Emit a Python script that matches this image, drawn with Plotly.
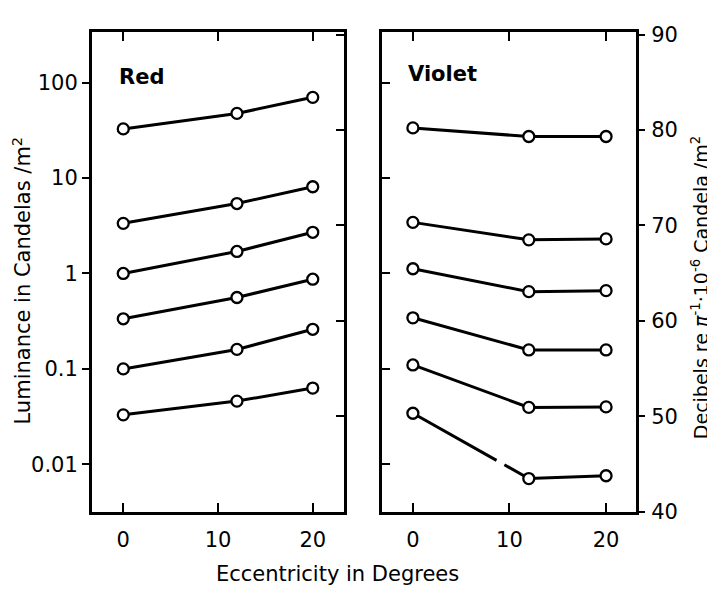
import plotly.graph_objects as go
import numpy as np

# ---------------- data ----------------
ecc = [0, 12, 20]

red_series = [
    [32.7, 47.5, 70.0],
    [3.35, 5.4, 8.1],
    [1.0, 1.7, 2.7],
    [0.335, 0.56, 0.87],
    [0.10, 0.16, 0.26],
    [0.033, 0.046, 0.063],
]

violet_series = [
    [33.5, 27.2, 27.2],
    [3.43, 2.25, 2.3],
    [1.12, 0.645, 0.66],
    [0.343, 0.158, 0.158],
    [0.11, 0.0395, 0.04],
    [0.0343, 0.0071, 0.0076],
]

lum_ticks = [0.01, 0.1, 1, 10, 100]
lum_ticktext = ["0.01", "0.1", "1", "10", "100"]
db_ticks = [40, 50, 60, 70, 80, 90]
x_ticks = [0, 10, 20]

# ---------------- geometry ----------------
# the page keeps the browser's default 8px body margin, so every target
# position (in window pixels) is converted to figure pixels by subtracting it
OFF = 8
W, H = 715, 601


def px(xp):
    return (xp - OFF) / W


def py(yp):
    return 1 - (yp - OFF) / H


log_range = [-2.5, 2.525]
DB_OFFSET = 6 + np.log10(np.pi)  # dB re pi^-1 * 1e-6 cd/m^2


def to_db(v):
    return 10 * (np.log10(v) + DB_OFFSET)


db_range = [10 * (v + DB_OFFSET) for v in log_range]

FONT = "DejaVu Sans"
LW = 3

fig = go.Figure()


def add_series(series, xa, ya, broken_last=False):
    for i, vals in enumerate(series):
        dash = "solid"
        if broken_last and i == len(series) - 1:
            dash = "96px,9px,1000px"
        fig.add_trace(go.Scatter(
            x=ecc, y=vals, xaxis=xa, yaxis=ya, mode="lines+markers",
            line=dict(color="black", width=LW, dash=dash),
            marker=dict(symbol="circle", size=11, color="white",
                        line=dict(color="black", width=2.3)),
            showlegend=False, hoverinfo="skip"))


add_series(red_series, "x", "y")
add_series(violet_series, "x2", "y2", broken_last=True)

# invisible companions so the decibel axes get drawn
fig.add_trace(go.Scatter(x=ecc, y=[to_db(v) for v in red_series[0]],
                         xaxis="x", yaxis="y4", mode="markers",
                         marker=dict(opacity=0), showlegend=False,
                         hoverinfo="skip"))
fig.add_trace(go.Scatter(x=ecc, y=[to_db(v) for v in violet_series[0]],
                         xaxis="x2", yaxis="y3", mode="markers",
                         marker=dict(opacity=0), showlegend=False,
                         hoverinfo="skip"))

ydom = [py(521), py(24)]
dom1 = [px(92), px(344)]
dom2 = [px(382), px(636)]

tickfont = dict(family=FONT, size=21, color="black")

xcommon = dict(tickvals=x_ticks, ticks="inside", ticklen=9, tickwidth=2,
               tickcolor="black", showline=True, linewidth=3, linecolor="black",
               mirror="ticks", showgrid=False, zeroline=False, tickfont=tickfont,
               ticklabelstandoff=7)

fig.update_layout(
    width=W, height=H, autosize=False,
    margin=dict(l=0, r=0, t=0, b=0),
    paper_bgcolor="white", plot_bgcolor="white",
    xaxis=dict(domain=dom1, range=[-3.3, 23.3], anchor="y", **xcommon),
    xaxis2=dict(domain=dom2, range=[-3.2, 23.1], anchor="y2", **xcommon),
    yaxis=dict(domain=ydom, type="log", range=log_range, anchor="x",
               tickvals=lum_ticks, ticktext=lum_ticktext, ticks="outside",
               ticklen=7, tickwidth=2, tickcolor="black", showline=True,
               linewidth=3, linecolor="black", showgrid=False, zeroline=False,
               tickfont=tickfont, ticklabelstandoff=0),
    yaxis4=dict(overlaying="y", side="right", anchor="x", range=db_range,
                tickvals=db_ticks, ticks="inside", ticklen=8, tickwidth=2,
                tickcolor="black", showticklabels=False, showline=True,
                linewidth=3, linecolor="black", showgrid=False, zeroline=False),
    yaxis2=dict(domain=ydom, type="log", range=log_range, anchor="x2",
                tickvals=lum_ticks, ticks="inside", ticklen=8, tickwidth=2,
                tickcolor="black", showticklabels=False, showline=True,
                linewidth=3, linecolor="black", showgrid=False, zeroline=False),
    yaxis3=dict(overlaying="y2", side="right", anchor="x2", range=db_range,
                tickvals=db_ticks, ticks="outside", ticklen=6, tickwidth=2,
                tickcolor="black", showline=True, linewidth=3,
                linecolor="black", showgrid=False, zeroline=False,
                tickfont=tickfont, ticklabelstandoff=2),
)

ann = [
    dict(text="<b>Red</b>", x=px(117), y=py(70), xanchor="left",
         yanchor="middle", font=dict(family=FONT, size=21)),
    dict(text="<b>Violet</b>", x=px(406), y=py(67), xanchor="left",
         yanchor="middle", font=dict(family=FONT, size=21)),
    dict(text="Luminance in Candelas /m<sup>2</sup>", x=px(22), y=py(281),
         textangle=-90, xanchor="center", yanchor="middle",
         font=dict(family=FONT, size=21)),
    dict(text="Decibels re <i>π</i><sup>-1</sup>·10<sup>-6</sup> Candela /m<sup>2</sup>",
         x=px(700), y=py(289), textangle=-90, xanchor="center",
         yanchor="middle", font=dict(family=FONT, size=19)),
    dict(text="Eccentricity in Degrees", x=px(337), y=py(585),
         xanchor="center", yanchor="middle", font=dict(family=FONT, size=21)),
]
for a in ann:
    a.update(xref="paper", yref="paper", showarrow=False)
    a["font"]["color"] = "black"
fig.update_layout(annotations=ann)

fig.write_html("out.html", config={"displayModeBar": False, "responsive": False})
